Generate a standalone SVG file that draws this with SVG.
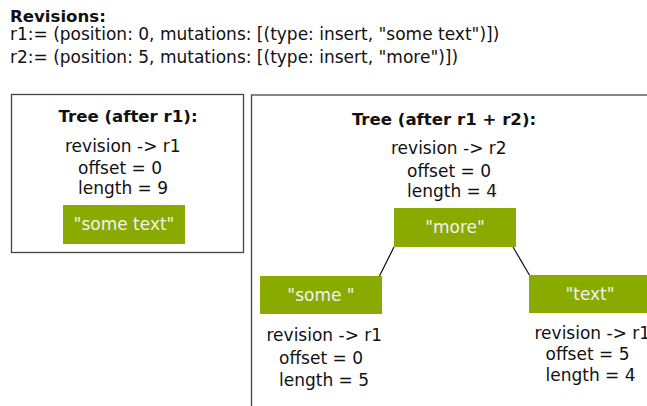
<svg xmlns="http://www.w3.org/2000/svg" width="647" height="406" viewBox="0 0 647 406">
<style>
text{font-family:"DejaVu Sans","Liberation Sans",sans-serif;font-size:17px;fill:#111}
.b{font-weight:bold;font-size:16.6px}
.m{text-anchor:middle}
.leaf{fill:#8aaa00}
.lt{fill:#f2f2f2;text-anchor:middle}
.panel{fill:none;stroke:#444;stroke-width:1.3}
.conn{stroke:#111;stroke-width:1.2}
</style>
<rect width="647" height="406" fill="#fff"/>
<g id="revisions">
<text class="b" x="10" y="21.5">Revisions:</text>
<text x="10" y="40">r1:= (position: 0, mutations: [(type: insert, "some text")])</text>
<text x="10" y="63">r2:= (position: 5, mutations: [(type: insert, "more")])</text>
</g>
<g id="panel-r1">
<rect class="panel" x="11.5" y="94.5" width="232" height="158"/>
<text class="b m" x="128" y="121.5">Tree (after r1):</text>
<text x="65" y="151.5">revision -&gt; r1</text>
<text x="78" y="173.5">offset = 0</text>
<text x="78" y="194">length = 9</text>
</g>
<g id="node-sometext">
<rect class="leaf" x="63" y="205" width="122" height="39"/>
<text class="lt" x="124" y="229.5">"some text"</text>
</g>
<g id="panel-r2">
<rect class="panel" x="251.5" y="95" width="420" height="330"/>
<text class="b m" x="444" y="125">Tree (after r1 + r2):</text>
</g>
<g id="connectors">
<line class="conn" x1="394" y1="247" x2="379" y2="277"/>
<line class="conn" x1="513" y1="247" x2="530" y2="276"/>
</g>
<g id="node-more">
<text x="391" y="154">revision -&gt; r2</text>
<text x="407" y="176.5">offset = 0</text>
<text x="407" y="197">length = 4</text>
<rect class="leaf" x="394" y="208" width="122" height="39"/>
<text class="lt" x="455" y="232.5">"more"</text>
</g>
<g id="node-some">
<rect class="leaf" x="260" y="276" width="122" height="38"/>
<text class="lt" x="321" y="300.5">"some "</text>
<text x="266.5" y="341">revision -&gt; r1</text>
<text x="279" y="364">offset = 0</text>
<text x="279" y="385.5">length = 5</text>
</g>
<g id="node-text">
<rect class="leaf" x="529" y="275" width="122" height="38"/>
<text class="lt" x="590" y="299.5">"text"</text>
<text x="534.5" y="339">revision -&gt; r1</text>
<text x="545.5" y="360">offset = 5</text>
<text x="545.5" y="381">length = 4</text>
</g>
</svg>
